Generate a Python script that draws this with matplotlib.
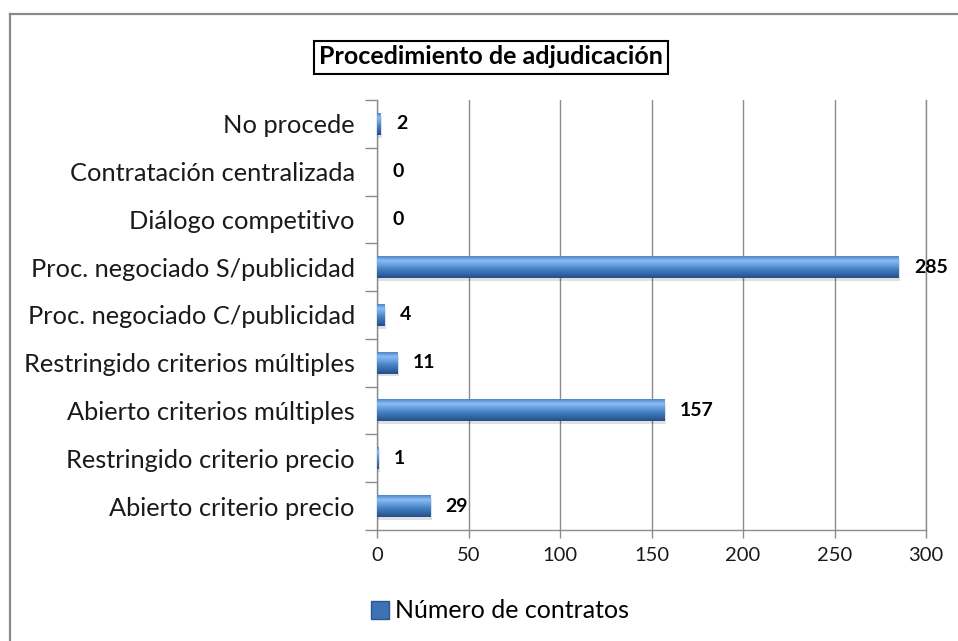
import numpy as np
import matplotlib
matplotlib.use("Agg")
import matplotlib.pyplot as plt
from matplotlib.colors import LinearSegmentedColormap
from matplotlib.patches import Patch, Rectangle
from matplotlib.lines import Line2D

plt.rcParams['font.family'] = ['Lato', 'DejaVu Sans']

categorias = ["Abierto criterio precio", "Restringido criterio precio",
              "Abierto criterios múltiples", "Restringido criterios múltiples",
              "Proc. negociado C/publicidad", "Proc. negociado S/publicidad",
              "Diálogo competitivo", "Contratación centralizada", "No procede"]
contratos = [29, 1, 157, 11, 4, 285, 0, 0, 2]
xticks = [0, 50, 100, 150, 200, 250, 300]
titulo = "Procedimiento de adjudicación"
serie = "Número de contratos"

W, H = 958, 641
fig = plt.figure(figsize=(W / 100, H / 100), dpi=100)
ax = fig.add_axes([377 / W, 1 - 530 / H, (926 - 377) / W, (530 - 100) / H])

grid_c = "#8c8c8c"
ax.set_xlim(0, 300)
ax.set_ylim(-0.5, len(categorias) - 0.5)
ax.set_xticks(xticks)
ax.set_yticks(range(len(categorias)))
ax.set_yticklabels(categorias, fontsize=18.3, color="#1a1a1a")
ax.set_yticks(np.arange(-0.5, len(categorias), 1), minor=True)
ax.tick_params(axis="y", which="major", length=0, pad=16)
ax.tick_params(axis="y", which="minor", length=9, color=grid_c, width=1)
ax.tick_params(axis="x", length=6, color=grid_c, width=1, labelsize=14.5,
               labelcolor="#1a1a1a", pad=6)
ax.spines["top"].set_visible(False)
for s in ["left", "bottom", "right"]:
    ax.spines[s].set_color(grid_c)
    ax.spines[s].set_linewidth(1)
ax.grid(axis="x", color=grid_c, linewidth=1)
ax.set_axisbelow(True)

# barras con degradado
cmap = LinearSegmentedColormap.from_list(
    "barra", ["#244f86", "#3468aa", "#4580c4", "#66a0e0", "#8cbcf0", "#4f86cc"])
grad = np.linspace(0, 1, 64).reshape(-1, 1)
h = 0.45
for i, v in enumerate(contratos):
    if v <= 0:
        continue
    ax.add_patch(Rectangle((0, i - h / 2 - 0.06), v + 0.8, h, color="#000000",
                           alpha=0.12, lw=0, zorder=2))
    ax.imshow(grad, cmap=cmap, aspect="auto", origin="lower",
              extent=[0, v, i - h / 2, i + h / 2], zorder=3)
ax.set_ylim(-0.5, len(categorias) - 0.5)
ax.set_xlim(0, 300)

for i, v in enumerate(contratos):
    ax.annotate(str(v), (v, i), xytext=(11, 0), textcoords="offset points",
                ha="left", va="center", fontsize=14, fontweight="bold",
                color="#000000")

fig.text(491 / W, 1 - 57 / H, titulo, ha="center", va="center", fontsize=18,
         fontweight="bold",
         bbox=dict(boxstyle="square,pad=0.2", fc="white", ec="black", lw=1.5))

fig.legend(handles=[Patch(facecolor="#3d72b5", edgecolor="#2a5790")],
           labels=[serie], loc="center left",
           bbox_to_anchor=(361 / W, 1 - 611 / H), frameon=False,
           fontsize=18, handlelength=0.7, handleheight=0.7,
           handletextpad=0.25, borderaxespad=0)

fig.add_artist(Line2D([10 / W, 10 / W], [0, 1 - 14 / H], color="#8a8a8a",
                      lw=1.6, transform=fig.transFigure))
fig.add_artist(Line2D([10 / W, 1], [1 - 14 / H, 1 - 14 / H], color="#8a8a8a",
                      lw=1.6, transform=fig.transFigure))

fig.savefig("out.png", dpi=100)
